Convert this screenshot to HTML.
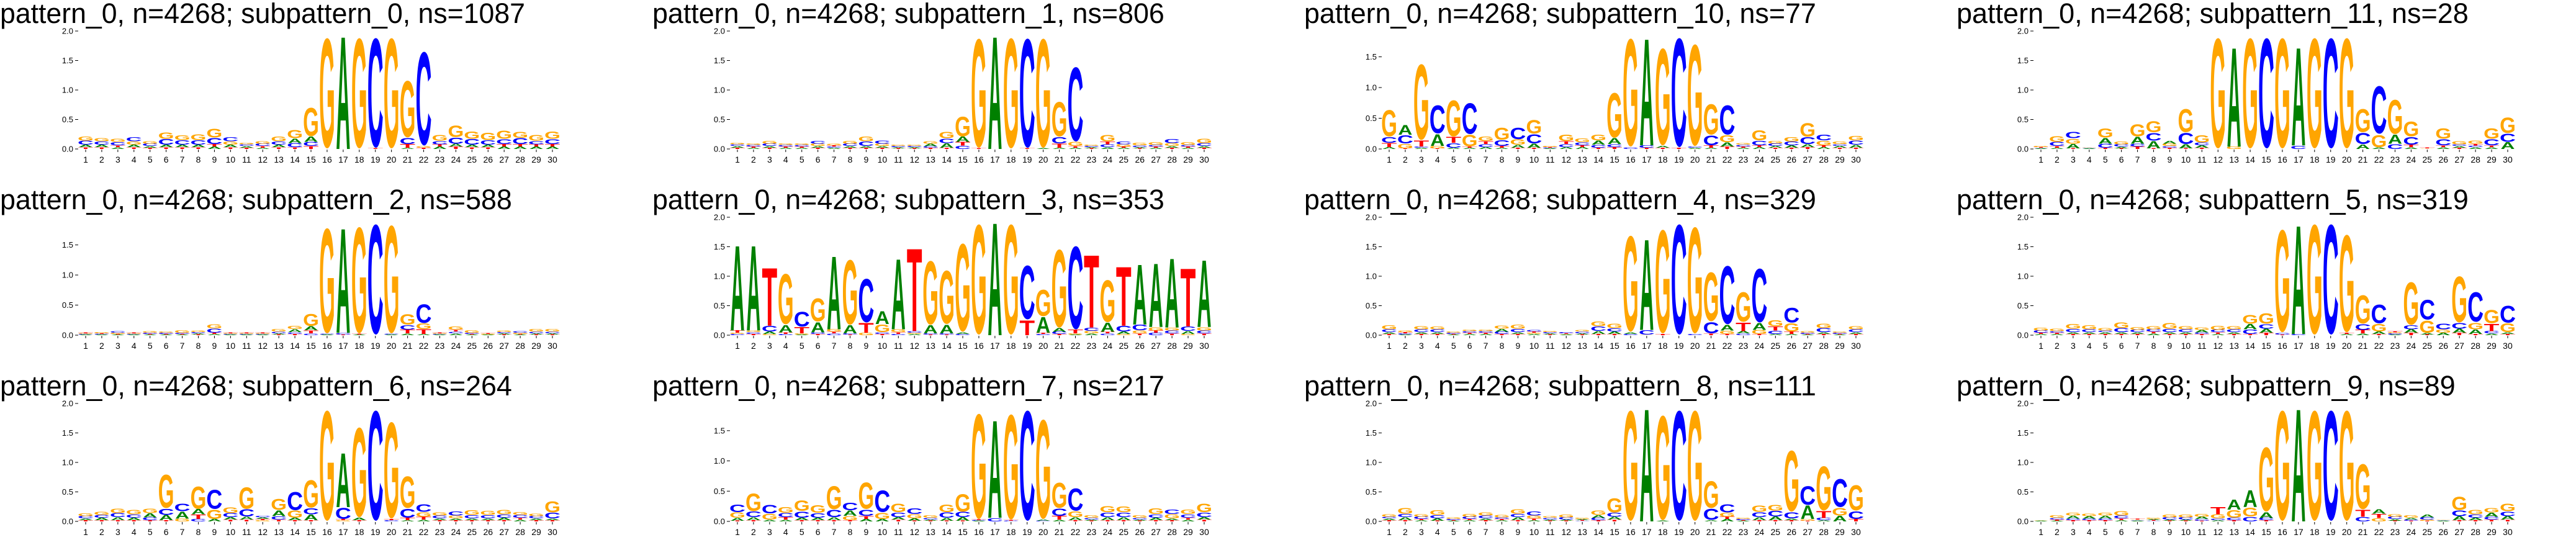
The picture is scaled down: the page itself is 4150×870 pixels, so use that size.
<!DOCTYPE html>
<html><head><meta charset="utf-8"><title>Sequence logos</title>
<style>
html,body{margin:0;padding:0;background:#fff;}
svg{display:block;}
</style></head>
<body>
<svg id="fig" xmlns="http://www.w3.org/2000/svg" width="4150" height="870" viewBox="0 0 4150 870"></svg>
<script>
// ---- data ----
const positions = [1,2,3,4,5,6,7,8,9,10,11,12,13,14,15,16,17,18,19,20,21,22,23,24,25,26,27,28,29,30];
const letters = ['A','C','G','T'];
const yTicks = [0, 0.5, 1.0, 1.5, 2.0];
const yTickLabels = ['0.0','0.5','1.0','1.5','2.0'];
const titles = [
 'pattern_0, n=4268; subpattern_0, ns=1087','pattern_0, n=4268; subpattern_1, ns=806','pattern_0, n=4268; subpattern_10, ns=77','pattern_0, n=4268; subpattern_11, ns=28',
 'pattern_0, n=4268; subpattern_2, ns=588','pattern_0, n=4268; subpattern_3, ns=353','pattern_0, n=4268; subpattern_4, ns=329','pattern_0, n=4268; subpattern_5, ns=319',
 'pattern_0, n=4268; subpattern_6, ns=264','pattern_0, n=4268; subpattern_7, ns=217','pattern_0, n=4268; subpattern_8, ns=111','pattern_0, n=4268; subpattern_9, ns=89'];
// heights per position: [A, C, G, T] (bits)
const sp0 = [[.04,.07,.07,.03],[.04,.06,.06,.03],[.03,.06,.06,.03],[.04,.07,.06,.03],[.03,.04,.04,.02],[.04,.1,.12,.03],[.04,.08,.09,.03],[.04,.08,.1,.03],[.04,.11,.16,.04],[.04,.07,.06,.03],
 [.03,.03,.03,.02],[.02,.04,.04,.03],[.04,.06,.09,.03],[.08,.07,.15,.03],[.09,.07,.52,.05],[0,0,2.0,0],[2.0,0,0,0],[0,0,2.0,0],[0,1.99,0,.01],[0,0,2.0,0],
 [.02,.11,1.03,.06],[0,1.7,.03,.02],[.04,.06,.1,.04],[.05,.11,.21,.04],[.04,.1,.13,.03],[.04,.08,.13,.03],[.04,.09,.15,.04],[.04,.11,.11,.04],[.04,.06,.1,.04],[.04,.09,.13,.04]];
const sp1 = [[.03,.03,.03,.02],[.02,.03,.03,.02],[.03,.04,.05,.02],[.02,.03,.03,.02],[.02,.03,.03,.02],[.03,.05,.04,.02],[.02,.02,.03,.02],[.03,.04,.05,.02],[.03,.08,.09,.02],[.03,.06,.04,.02],
 [.02,.02,.02,.01],[.02,.02,.02,.01],[.04,.03,.04,.02],[.08,.08,.12,.02],[.09,.06,.36,.06],[0,0,1.98,.01],[2.0,0,0,0],[0,0,2.0,0],[0,1.98,0,.01],[.01,0,1.98,0],
 [.02,.12,.63,.07],[.02,1.35,.07,.03],[.02,.02,.02,.01],[.03,.05,.12,.05],[.02,.05,.04,.02],[.02,.03,.04,.01],[.02,.03,.05,.02],[.03,.07,.05,.02],[.02,.03,.05,.02],[.03,.05,.08,.02]];
const sp10 = [[.03,.1,.46,.07],[.16,.14,.08,.01],[.02,.02,1.32,.1],[.2,.49,.04,.01],[.02,.08,.63,.1],[.02,.54,.2,.02],[.03,.05,.08,.05],[.02,.1,.21,.03],[.05,.2,.09,.02],[.07,.16,.24,.02],
 [.01,.01,.02,.01],[.03,.05,.11,.05],[.03,.05,.06,.03],[.07,.05,.1,.02],[.1,.05,.78,.03],[0,.03,1.88,0],[1.82,.04,0,.02],[.03,0,1.69,.02],[0,1.9,0,.02],[.02,.02,1.77,0],
 [.02,.17,.53,.04],[.07,.51,.12,.04],[.02,.03,.03,.02],[.03,.08,.18,.03],[.03,.04,.04,.02],[.04,.06,.08,.02],[.05,.12,.24,.03],[.03,.1,.08,.03],[.03,.03,.04,.02],[.05,.07,.08,.02]];
const sp11 = [[.01,.01,.02,.01],[.02,.07,.1,.03],[.08,.12,.09,.01],[.01,.01,.01,0],[.1,.07,.17,.02],[.03,.04,.05,.01],[.12,.05,.22,.04],[.13,.14,.2,.01],[.05,.03,.04,.02],[.07,.2,.42,.01],
 [.04,.05,.13,.02],[0,0,2.0,0],[1.76,0,.04,0],[0,0,2.0,0],[0,2.0,0,0],[0,0,2.0,0],[1.74,.06,0,0],[0,0,2.0,0],[0,2.0,0,0],[0,0,2.0,0],
 [.08,.2,.42,0],[.03,.87,.22,0],[.16,.09,.62,0],[.03,.14,.27,.04],[0,0,.01,.01],[.03,.11,.19,.03],[.03,.03,.06,.02],[.03,.03,.06,.03],[.03,.11,.19,.03],[.12,.15,.28,0]];
const sp2 = [[.01,.01,.01,.01],[.01,.01,.02,.01],[.01,.03,.02,.01],[.01,.01,.01,.01],[.01,.02,.03,.01],[.01,.02,.02,.01],[.01,.02,.04,.01],[.02,.02,.03,.01],[.02,.07,.07,.02],[.01,.01,.01,.01],
 [.01,.01,.01,.01],[.01,.01,.01,.01],[.02,.03,.04,.01],[.05,.03,.06,.02],[.07,.03,.22,.05],[.01,.01,1.87,0],[1.82,.03,0,.01],[.01,0,1.89,.01],[0,1.96,0,0],[.01,.01,1.92,0],
 [.03,.08,.19,.06],[.02,.33,.1,.08],[.01,.01,.01,.01],[.03,.03,.06,.03],[.01,.02,.04,.01],[.01,0,.01,.01],[.02,.02,.03,.01],[.01,.03,.02,.01],[.02,.03,.04,.01],[.02,.03,.04,.01]];
const sp3 = [[1.51,.02,.02,.04],[1.51,.03,.03,.02],[.04,.1,.02,1.03],[.13,.02,.92,.03],[.01,.27,.02,.11],[.18,.03,.42,.02],[1.3,.03,.04,.03],[.14,.02,1.18,.01],[0,.79,.04,.17],[.23,.03,.14,.02],
 [1.25,.02,.05,.03],[.02,.03,.02,1.47],[.14,.02,1.16,.01],[.15,.02,.97,.01],[.03,.02,1.6,0],[0,0,2.0,0],[2.0,0,0,0],[0,0,2.0,0],[0,.98,0,.26],[.28,.02,.48,.02],
 [.06,.04,1.42,.02],[.01,1.51,.02,.06],[.03,.06,.04,1.29],[.16,.03,.76,.03],[.04,.1,.02,1.05],[1.07,.1,.05,.03],[1.13,.04,.06,.04],[1.23,.05,.05,.03],[.05,.08,.02,1.03],[1.19,.05,.06,.03]];
const sp4 = [[.03,.05,.07,.02],[.01,.02,.03,.02],[.03,.05,.06,.02],[.03,.05,.05,.02],[.01,.02,.02,.01],[.02,.03,.03,.02],[.02,.03,.03,.02],[.05,.04,.06,.02],[.03,.06,.07,.02],[.02,.03,.02,.02],
 [.02,.02,.02,.01],[.01,.02,.01,.01],[.02,.03,.03,.01],[.05,.08,.09,.02],[.04,.06,.08,.02],[.03,.02,1.74,0],[1.61,.08,.01,0],[0,0,1.88,.02],[0,2.0,0,0],[0,.02,1.93,0],
 [0,.2,.89,.03],[.1,1.06,.06,.02],[.04,.03,.54,.15],[.12,.98,.07,.02],[.02,.06,.11,.07],[.02,.27,.15,.04],[.01,.02,.03,.01],[.03,.07,.08,.02],[.01,.02,.02,.01],[.03,.05,.06,.02]];
const sp5 = [[.02,.04,.05,.02],[.02,.03,.04,.02],[.03,.06,.09,.02],[.03,.05,.07,.02],[.03,.03,.04,.02],[.03,.07,.1,.02],[.03,.04,.05,.02],[.03,.04,.06,.03],[.03,.06,.1,.02],[.03,.05,.06,.02],
 [.04,.03,.04,.02],[.02,.04,.07,.03],[.03,.05,.06,.02],[.09,.08,.16,.02],[.07,.08,.19,.04],[0,.03,1.86,.01],[1.93,.02,0,0],[0,0,2.0,0],[0,2.0,0,0],[.02,0,1.77,.02],
 [.03,.1,.52,.06],[.04,.34,.14,.02],[.01,.02,.02,.02],[.06,.07,.78,.04],[.03,.36,.22,.01],[.04,.1,.06,0],[.07,.1,.84,.04],[.08,.54,.12,.02],[.03,.04,.24,.13],[.03,.31,.16,.02]];
const sp6 = [[.03,.04,.05,.02],[.04,.05,.06,.02],[.05,.07,.08,.02],[.04,.06,.08,.02],[.07,.05,.08,.02],[.09,.11,.61,.02],[.12,.14,.05,0],[.09,.04,.41,.08],[.04,.35,.17,0],[.04,.07,.1,.03],
 [.05,.13,.39,.03],[.03,.03,.02,.02],[.1,.06,.2,.03],[.04,.33,.13,.02],[.1,.11,.5,.02],[0,0,2.0,0],[.96,.2,.02,.02],[.04,0,1.63,.02],[0,2.0,0,0],[0,.02,1.75,.02],
 [.02,.16,.58,.04],[.03,.14,.08,.05],[.03,.05,.06,.02],[.03,.07,.05,.02],[.03,.06,.09,.02],[.03,.06,.07,.02],[.04,.06,.08,.02],[.03,.05,.05,.03],[.03,.04,.04,.02],[.03,.1,.2,.02]];
const sp7 = [[.05,.14,.09,.01],[.05,.1,.31,.02],[.03,.15,.1,0],[.03,.07,.1,.04],[.04,.11,.19,.02],[.04,.08,.14,.02],[.05,.13,.41,.02],[.09,.14,.07,.02],[.04,.11,.47,.05],[.04,.38,.11,0],
 [.04,.08,.15,.03],[.04,.1,.07,.01],[.02,.03,.04,.01],[.05,.09,.14,.01],[.06,.09,.31,.01],[.01,.01,1.86,.01],[1.69,.06,0,0],[0,.01,1.86,.01],[0,1.95,0,0],[.02,.01,1.76,0],
 [.03,.13,.45,.06],[.05,.4,.1,.02],[.02,.03,.04,.01],[.05,.08,.11,.02],[.05,.08,.1,.02],[.02,.03,.04,.01],[.04,.06,.1,.02],[.03,.08,.07,.02],[.03,.06,.08,.03],[.04,.08,.15,.03]];
const sp8 = [[.03,.03,.04,.02],[.05,.06,.1,.02],[.02,.04,.04,.02],[.04,.06,.09,.01],[.01,.02,.03,.01],[.02,.04,.05,.02],[.03,.05,.06,.02],[.02,.03,.04,.02],[.05,.06,.08,.02],[.02,.07,.05,.03],
 [.02,.03,.03,.01],[.02,.04,.05,.01],[.02,.01,.02,.01],[.05,.04,.08,.02],[.05,.07,.26,.03],[0,0,2.0,0],[2.0,0,0,0],[.01,0,1.9,0],[0,2.0,0,0],[0,0,2.0,0],
 [.02,.2,.49,0],[.04,.15,.07,.04],[.01,.02,.02,.01],[.05,.09,.12,.02],[.06,.1,.1,.02],[.03,.11,1.11,.02],[.24,.34,.03,.01],[.02,.04,.81,.12],[.1,.51,.14,0],[0,.14,.46,.04]];
const sp9 = [[.01,0,.01,0],[.01,.03,.04,.02],[.05,.03,.05,.02],[.04,.03,.04,.02],[.05,.03,.05,.02],[.02,.05,.08,.03],[.01,.01,.01,.01],[.02,.01,.02,.01],[.02,.04,.05,.01],[.02,.04,.05,.01],
 [.04,.03,.05,.01],[.02,.03,.07,.13],[.18,.04,.14,.02],[.3,.08,.16,0],[.1,.04,1.17,.02],[0,0,2.0,0],[2.0,0,0,0],[0,0,2.0,0],[0,2.0,0,0],[0,0,2.0,0],
 [0,.08,.82,.12],[.08,0,.06,.07],[.03,.04,.04,.01],[.03,.02,.04,.01],[.05,.04,.02,.01],[.01,.01,.01,0],[.07,.1,.24,.02],[.04,.06,.08,.02],[.07,.05,.08,.03],[.06,.08,.14,.03]];
const panelData = [sp0, sp1, sp10, sp11, sp2, sp3, sp4, sp5, sp6, sp7, sp8, sp9];

// ---- drawing ----
const NS = 'http://www.w3.org/2000/svg';
const svg = document.getElementById('fig');
const colors = {A:'#008000', C:'#0000ff', G:'#ffa500', T:'#ff0000'};
const ink = {A:[0,72.2,-72.9,0], C:[4.2,68.2,-74.4,1.4], G:[4.2,73.6,-74.4,1.4], T:[2.2,59,-72.9,0]};
const colStep = 1050, rowStep = 300;
const x0 = 138, xStep = 25.93, letterW = 23, yTop = 50, yBot = 240;
function mk(tag, attrs, parent){ const e=document.createElementNS(NS,tag); for(const k in attrs) e.setAttribute(k,attrs[k]); parent.appendChild(e); return e; }

panelData.forEach((data, p) => {
  const ox = (p % 4) * colStep, oy = Math.floor(p / 4) * rowStep;
  const g = mk('g', {transform:`translate(${ox},${oy})`}, svg);
  
  
  let ymax = 0;
  data.forEach(r => { ymax = Math.max(ymax, r[0]+r[1]+r[2]+r[3]); });
  const yS = v => yBot - v * (yBot - yTop) / ymax;
  const xS = i => x0 + i * xStep;
  const t = mk('text', {x: (p%4===3?2:(p%4===0?0:1)), y:37, 'font-family':'"Liberation Sans Narrow","Liberation Sans",sans-serif', 'font-size':45, fill:'#000', textLength: titles[p].length*21.15, lengthAdjust:'spacingAndGlyphs'}, g);
  t.textContent = titles[p];
  
  
  yTicks.forEach((v, k) => {
    if (v > ymax + 0.005) return;
    const y = yS(v);
    mk('line', {x1:121, x2:126, y1:y, y2:y, stroke:'#000', 'stroke-width':1}, g);
    const lb = mk('text', {x:118, y:y+4.5, 'text-anchor':'end', 'font-family':'"Liberation Sans Narrow","Liberation Sans",sans-serif', 'font-size':13, fill:'#000'}, g);
    lb.textContent = yTickLabels[k];
    
    
  });
  positions.forEach((pos, i) => {
    const x = xS(i);
    mk('line', {x1:x, x2:x, y1:241, y2:245, stroke:'#000', 'stroke-width':1}, g);
    const lb = mk('text', {x:x, y:262, 'text-anchor':'middle', 'font-family':'"Liberation Sans Narrow","Liberation Sans",sans-serif', 'font-size':14, fill:'#000'}, g);
    lb.textContent = String(pos);
    
    
  });
  data.forEach((r, i) => {
    const order = [0,1,2,3].sort((a,b) => r[a] - r[b]);
    let base = 0;
    order.forEach(li => {
      const h = r[li];
      if (h < 0.004) { base += h; return; }
      const L = letters[li];
      const yb = yS(base), yt = yS(base + h);
      const hp = yb - yt;
      const b = ink[L];
      const sx = letterW / (b[1]-b[0]), sy = hp / (b[3]-b[2]);
      const xl = xS(i) - letterW/2;
      const el = mk('text', {x:0, y:0, 'font-family':'"Liberation Sans",sans-serif', 'font-weight':'bold', 'font-size':100, fill:colors[L],
        transform:`translate(${xl},${yb}) scale(${sx},${sy}) translate(${-b[0]},${-b[3]})`}, g);
      el.textContent = L;
      
      
      base += h;
    });
  });
});
</script>
</body></html>
